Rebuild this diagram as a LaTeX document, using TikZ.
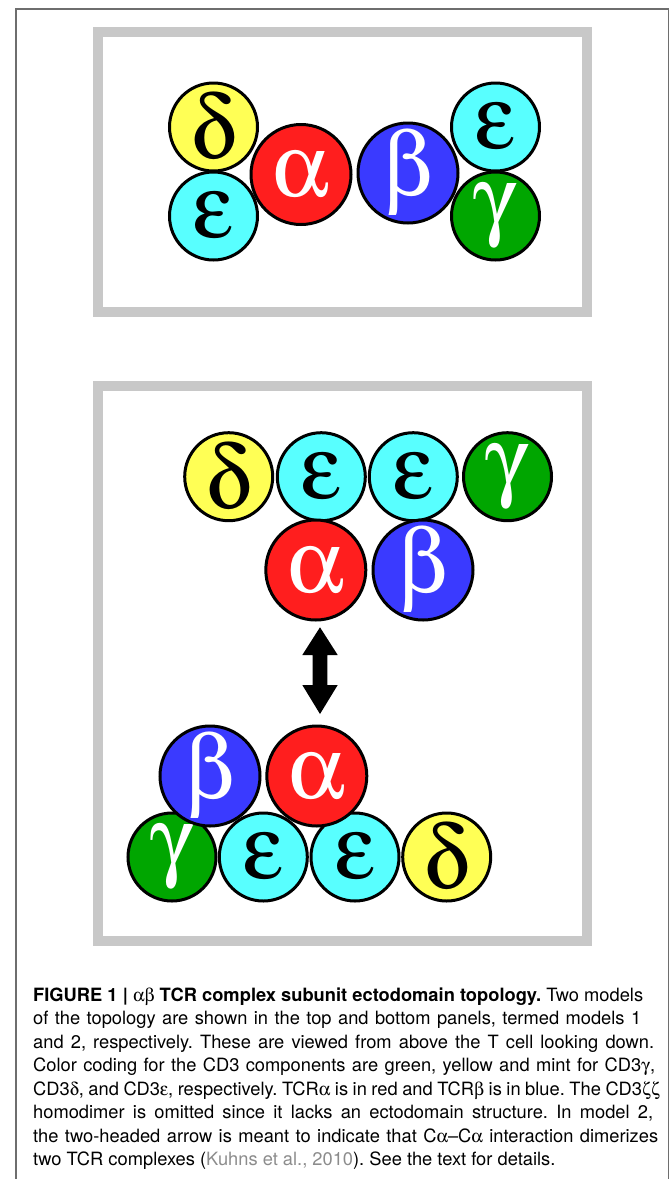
\documentclass[tikz,border=0pt]{standalone}
\usepackage{fontspec}
\usepackage[Symbol]{upgreek}
\setmainfont{TeX Gyre Heros}

\definecolor{cdYellow}{RGB}{255,255,85}
\definecolor{cdMint}{RGB}{88,255,255}
\definecolor{tcrRed}{RGB}{255,30,30}
\definecolor{tcrBlue}{RGB}{58,58,255}
\definecolor{cdGreen}{RGB}{0,166,0}
\definecolor{panelGray}{RGB}{200,200,200}
\definecolor{frameGray}{RGB}{110,110,110}
\definecolor{citeGray}{RGB}{140,140,140}

% one caption line set to a fixed measure by flexing the word spaces
\newcommand{\capfill}[2]{\hbox to #1{\frenchspacing
  \spaceskip=0.28em plus 0.4em minus 0.14em\relax
  \xspaceskip=\spaceskip #2}}

\tikzset{
  subunit/.style={circle, draw=black, line width=3pt, inner sep=0pt,
    font=\fontsize{90}{90}\selectfont},
  small/.style={subunit, minimum size=88pt},
  big/.style={subunit, minimum size=100pt},
  lightsub/.style={text=black},
  darksub/.style={text=white},
  panel/.style={draw=panelGray, line width=10pt},
  capline/.style={anchor=base west, inner sep=0pt,
    font=\fontsize{18.3}{23.5}\selectfont\frenchspacing},
}

\begin{document}
\begin{tikzpicture}[x=1pt,y=-1pt]
\useasboundingbox (0,0) rectangle (671,1179);
\clip (0,0) rectangle (671,1179);

% outer figure frame (open at the bottom of the page)
\draw[frameGray, line width=1.5pt] (16,1200) -- (16,9) -- (668.3,9) -- (668.3,1200);

% the two model panels
\draw[panel] (97.5,32.3) rectangle (587,311.7);
\draw[panel] (97.5,386) rectangle (587,941);

% model 1
\node[small, fill=cdYellow, lightsub] (m1d)  at (213.5,127) {$\updelta$};
\node[small, fill=cdMint, lightsub]   (m1e1) at (213.5,216) {$\upvarepsilon$};
\node[big, fill=tcrRed, darksub]      (m1a)  at (301,174.5) {$\upalpha$};
\node[big, fill=tcrBlue, darksub]     (m1b)  at (408,173) {$\upbeta$};
\node[small, fill=cdMint, lightsub]   (m1e2) at (495.5,127) {$\upvarepsilon$};
\node[small, fill=cdGreen, darksub]   (m1g)  at (495.5,216) {$\upgamma$};

% model 2, upper complex
\node[small, fill=cdYellow, lightsub] (m2d)  at (228.7,476.7) {$\updelta$};
\node[small, fill=cdMint, lightsub]   (m2e1) at (321.3,476.7) {$\upvarepsilon$};
\node[small, fill=cdMint, lightsub]   (m2e2) at (413.3,476.7) {$\upvarepsilon$};
\node[small, fill=cdGreen, darksub]   (m2g)  at (507.5,476.7) {$\upgamma$};
\node[big, fill=tcrRed, darksub]      (m2a)  at (315.8,570) {$\upalpha$};
\node[big, fill=tcrBlue, darksub]     (m2b)  at (423,570) {$\upbeta$};

% model 2, lower complex
\node[small, fill=cdGreen, darksub]   (m3g)  at (172,857) {$\upgamma$};
\node[small, fill=cdMint, lightsub]   (m3e1) at (263.3,857) {$\upvarepsilon$};
\node[small, fill=cdMint, lightsub]   (m3e2) at (355,857) {$\upvarepsilon$};
\node[small, fill=cdYellow, lightsub] (m3d)  at (446.7,857) {$\updelta$};
\node[big, fill=tcrBlue, darksub]     (m3b)  at (210,776) {$\upbeta$};
\node[big, fill=tcrRed, darksub]      (m3a)  at (316.8,776) {$\upalpha$};

% two-headed block arrow between the two alpha chains
\coordinate (tipTop) at (320,627.3);
\coordinate (tipBot) at (320,714);
\fill[black] (tipTop) -- ++(17.7,27.7) -- ++(-10.4,0) -- ++(0,30) -- ++(10.4,0)
  -- (tipBot) -- ++(-17.7,-29) -- ++(10.4,0) -- ++(0,-30) -- ++(-10.4,0) -- cycle;

% caption
\node[capline] (cap1) at (33,1001) {\capfill{610pt}{\textbf{FIGURE 1 | $\upalpha\upbeta$ TCR complex subunit ectodomain topology.} Two models}};
\node[capline] (cap2) at (33,1024.5) {\capfill{608pt}{of the topology are shown in the top and bottom panels, termed models 1}};
\node[capline] (cap3) at (33,1048) {\capfill{621pt}{and 2, respectively. These are viewed from above the T cell looking down.}};
\node[capline] (cap4) at (33,1071.5) {\capfill{622pt}{Color coding for the CD3 components are green, yellow and mint for CD3$\upgamma$,}};
\node[capline] (cap5) at (33,1095) {\capfill{627pt}{CD3$\updelta$, and CD3$\upvarepsilon$, respectively. TCR$\upalpha$ is in red and TCR$\upbeta$ is in blue. The CD3$\upzeta\upzeta$}};
\node[capline] (cap6) at (33,1118.5) {\capfill{620pt}{homodimer is omitted since it lacks an ectodomain structure. In model 2,}};
\node[capline] (cap7) at (33,1142) {\capfill{625pt}{the two-headed arrow is meant to indicate that C$\upalpha$–C$\upalpha$ interaction dimerizes}};
\node[capline] (cap8) at (33,1165.5) {two TCR complexes ({\color{citeGray}Kuhns et al., 2010}). See the text for details.};
\end{tikzpicture}
\end{document}
